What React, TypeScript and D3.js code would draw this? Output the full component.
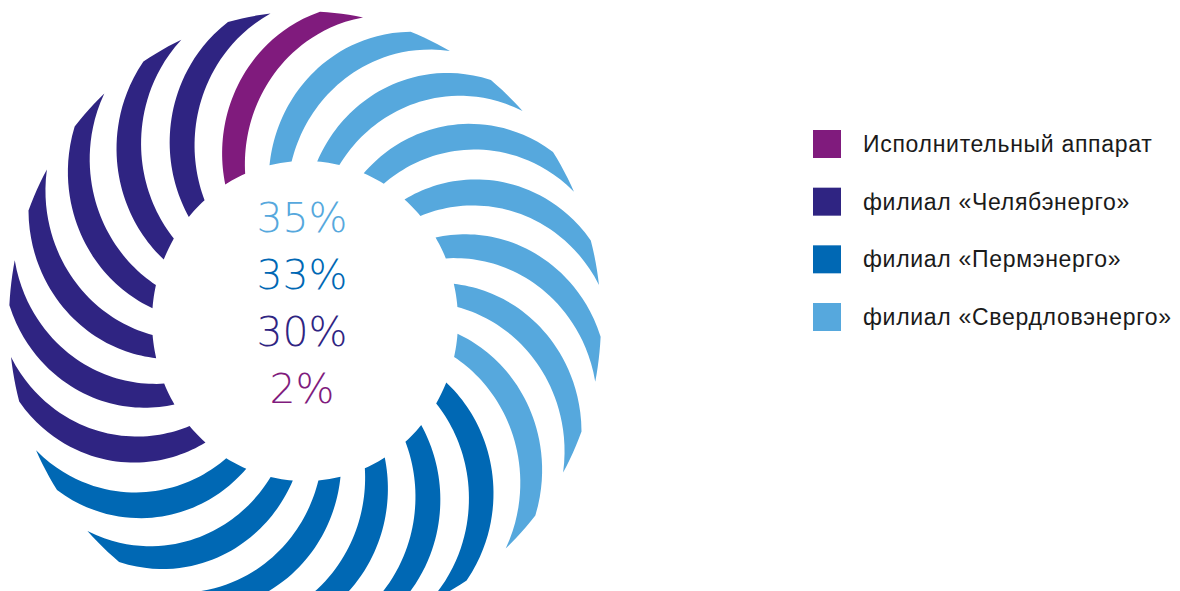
import React from 'react';
import * as d3 from 'd3';

// ---- data ----
const categories = [
  'Исполнительный аппарат',
  'филиал «Челябэнерго»',
  'филиал «Пермэнерго»',
  'филиал «Свердловэнерго»',
];
const shares = [2, 30, 33, 35];
const colors = ['#801b7d', '#2f2482', '#0068b4', '#56a8dd'];
// number of swirl stripes per category
const stripeCounts = [1, 6, 6, 7];
// clockwise order of categories around the swirl, starting at the top
const ringOrder = [0, 3, 2, 1];
// order of labels in the centre (largest first)
const centerOrder = [3, 2, 1, 0];

const W = 1180;
const H = 591;
const CX = 305;
const CY = 321;
const SY = 1.046;
const R_IN = 153;
const R_OUT = 296;
const D = 171; // distance of edge-circle centre from chart centre
const RHO = 142.5; // edge-circle radius
const START = 20.4; // deg, left edge of first stripe
const WIDTH_DEG = 8.4; // angular width of a stripe

const rad = (d: number) => (d * Math.PI) / 180;
const beta = (r: number) =>
  Math.acos((r * r + D * D - RHO * RHO) / (2 * r * D));

export default function App() {
  const stripes: { cat: number; i: number }[] = [];
  ringOrder.forEach((c) => {
    for (let k = 0; k < stripeCounts[c]; k++) stripes.push({ cat: c, i: stripes.length });
  });
  const total = stripes.length;
  const angleScale = d3.scaleLinear().domain([0, total]).range([rad(START), rad(START + 360)]);
  const rScale = d3.scaleLinear().domain([0, 1]).range([R_IN, R_OUT]);
  const N = 40;
  const line = d3
    .lineRadial<{ a: number; r: number }>()
    .angle((d) => d.a)
    .radius((d) => d.r)
    .curve(d3.curveLinear);

  const pathFor = (i: number) => {
    const aL = angleScale(i);
    const aR = aL + rad(WIDTH_DEG);
    const pts: { a: number; r: number }[] = [];
    for (let j = 0; j <= N; j++) {
      const r = rScale(j / N);
      pts.push({ a: aL - beta(r), r });
    }
    for (let j = 1; j < 6; j++) {
      const t = j / 6;
      pts.push({ a: aL + t * (aR - aL) - beta(R_OUT), r: R_OUT });
    }
    for (let j = N; j >= 0; j--) {
      const r = rScale(j / N);
      pts.push({ a: aR - beta(r), r });
    }
    for (let j = 5; j > 0; j--) {
      const t = j / 6;
      pts.push({ a: aL + t * (aR - aL) - beta(R_IN), r: R_IN });
    }
    return line(pts) + 'Z';
  };

  const legendY = d3.scalePoint<number>().domain([0, 1, 2, 3]).range([144, 317]);
  const centerY = d3.scalePoint<number>().domain([0, 1, 2, 3]).range([232, 403]);

  return (
    <div style={{ position: 'absolute', left: 0, top: 0 }}>
      <svg width={W} height={H} style={{ display: 'block', background: '#fff' }}>
        <g transform={`translate(${CX},${CY}) scale(1,${SY})`}>
          {stripes.map((s) => (
            <path key={s.i} d={pathFor(s.i)} fill={colors[s.cat]} />
          ))}
        </g>
        <g fontFamily="'DejaVu Sans', sans-serif" fontWeight={200} fontSize={41} textAnchor="middle">
          {centerOrder.map((c, k) => (
            <text key={c} x={302} y={centerY(k)} fill={colors[c]}>
              {shares[c]}%
            </text>
          ))}
        </g>
        <g fontFamily="'Liberation Sans', Arial, sans-serif" fontSize={23} letterSpacing={0.7} fill="#1a1a1a">
          {categories.map((name, c) => (
            <g key={c} transform={`translate(813,${legendY(c)})`}>
              <rect x={0} y={-14} width={28} height={28} fill={colors[c]} />
              <text x={50} y={8}>
                {name}
              </text>
            </g>
          ))}
        </g>
      </svg>
    </div>
  );
}
